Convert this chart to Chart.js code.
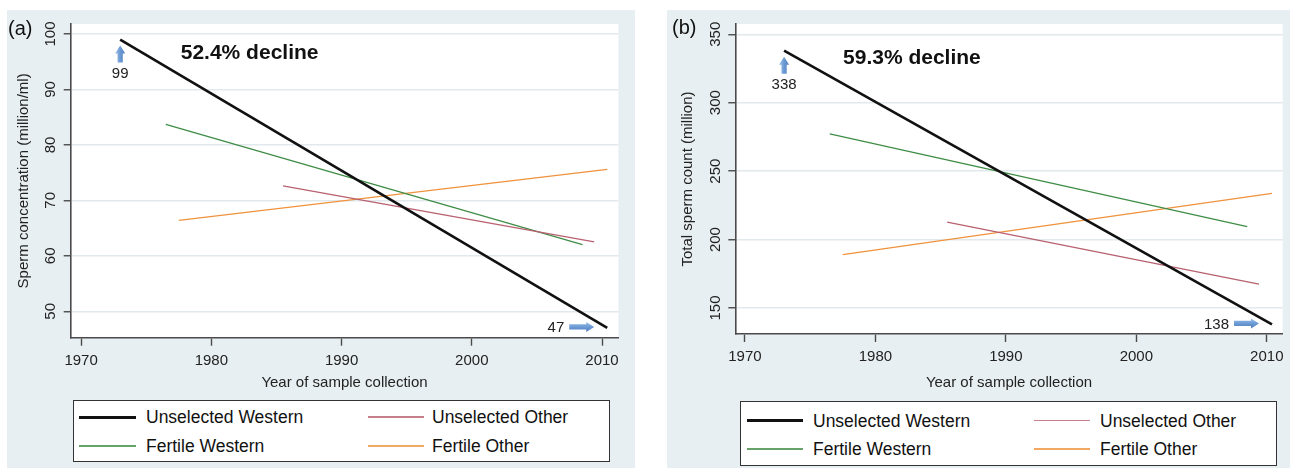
<!DOCTYPE html>
<html>
<head>
<meta charset="utf-8">
<script src="https://cdn.jsdelivr.net/npm/chart.js@4.4.1/dist/chart.umd.min.js"></script>
<style>
body { margin: 0; width: 1292px; height: 470px; background: #fff; position: relative; overflow: hidden; font-family: "Liberation Sans", Arial, sans-serif; }
.panel { position: absolute; top: 10px; height: 458px; background: #e8eff2; }
.panel canvas { position: absolute; left: 0; top: 0; }
.tag { position: absolute; font-size: 20px; color: #111; line-height: 20px; }
.legend { position: absolute; background: #fff; border: 1.5px solid #333; box-sizing: border-box; }
.item { position: absolute; font-size: 17.5px; color: #111; line-height: 20px; white-space: nowrap; }
.swatch { position: absolute; }
</style>
</head>
<body>
<div class="panel" style="left:7px;width:628px"><canvas id="chartA" width="628" height="458"></canvas></div>
<div class="panel" style="left:667px;width:623px"><canvas id="chartB" width="623" height="458"></canvas></div>
<div class="tag" style="left:8px;top:18px">(a)</div>
<div class="tag" style="left:672px;top:17px">(b)</div>
<div class="legend" id="legendA" style="left:73px;top:400px;width:537px;height:62px"></div>
<div class="legend" id="legendB" style="left:740px;top:401px;width:537px;height:65px"></div>

<script>
// tick labels
const xTicks = [1970, 1980, 1990, 2000, 2010];
const concTicks = [50, 60, 70, 80, 90, 100];
const countTicks = [150, 200, 250, 300, 350];

// series, in legend order
const seriesNames = ['Unselected Western', 'Unselected Other', 'Fertile Western', 'Fertile Other'];
const seriesColors = ['#111111', '#b8606f', '#3e8c45', '#f0923c'];
const seriesWidths = [2.6, 1.3, 1.3, 1.3];

// first and last year of each fitted line
const yearsUnselWestern = [1973, 2010.4];
const yearsUnselOther = [1985.5, 2009.4];
const yearsFertWestern = [1976.5, 2008.5];
const yearsFertOther = [1977.5, 2010.4];

// (a) sperm concentration (million/ml)
const concUnselWestern = [99, 47];
const concUnselOther = [72.6, 62.5];
const concFertWestern = [83.7, 62.0];
const concFertOther = [66.4, 75.6];

// (b) total sperm count (million)
const countUnselWestern = [338, 138];
const countUnselOther = [212.8, 167.5];
const countFertWestern = [277.3, 209.4];
const countFertOther = [189, 233.8];

const FONT = '"Liberation Sans", Arial, sans-serif';

const toPoints = (xs, ys) => xs.map((x, i) => ({ x: x, y: ys[i] }));

function buildDatasets(values) {
    const years = [yearsUnselWestern, yearsUnselOther, yearsFertWestern, yearsFertOther];
    return values.map((v, i) => ({
        label: seriesNames[i],
        data: toPoints(years[i], v),
        borderColor: seriesColors[i],
        borderWidth: seriesWidths[i],
        pointRadius: 0,
        tension: 0,
        fill: false
    }));
}

// white plot region
const plotBg = {
    id: 'plotBg',
    beforeDraw(chart) {
        const a = chart.chartArea, ctx = chart.ctx;
        ctx.save();
        ctx.fillStyle = '#ffffff';
        ctx.fillRect(a.left, a.top, a.right - a.left, a.bottom - a.top);
        ctx.restore();
    }
};

// stata style vertical y tick labels
const rotatedYTicks = {
    id: 'rotatedYTicks',
    afterDraw(chart) {
        const y = chart.scales.y, ctx = chart.ctx;
        const lx = chart.chartArea.left - 21;
        ctx.save();
        ctx.font = '15px ' + FONT;
        ctx.fillStyle = '#222';
        ctx.textAlign = 'center';
        ctx.textBaseline = 'alphabetic';
        y.ticks.forEach(t => {
            ctx.save();
            ctx.translate(lx, y.getPixelForValue(t.value));
            ctx.rotate(-Math.PI / 2);
            ctx.fillText(String(t.value), 0, 5.4);
            ctx.restore();
        });
        ctx.restore();
    }
};

function blockArrow(ctx, x0, y0, x1, y1) {
    // arrow from (x0,y0) tail to (x1,y1) tip
    const len = Math.hypot(x1 - x0, y1 - y0);
    const ang = Math.atan2(y1 - y0, x1 - x0);
    const head = 8, hw = 5, sw = 2.6;
    ctx.save();
    ctx.translate(x0, y0);
    ctx.rotate(ang);
    const g = ctx.createLinearGradient(0, -hw, 0, hw);
    g.addColorStop(0, '#9dc0ea');
    g.addColorStop(0.5, '#6b9ad4');
    g.addColorStop(1, '#4f7fbf');
    ctx.fillStyle = g;
    ctx.beginPath();
    ctx.moveTo(0, -sw);
    ctx.lineTo(len - head, -sw);
    ctx.lineTo(len - head, -hw);
    ctx.lineTo(len, 0);
    ctx.lineTo(len - head, hw);
    ctx.lineTo(len - head, sw);
    ctx.lineTo(0, sw);
    ctx.closePath();
    ctx.fill();
    ctx.restore();
}

// decline label and start / end arrows of the unselected western line
const declineMarks = {
    id: 'declineMarks',
    afterDatasetsDraw(chart, args, opts) {
        const ctx = chart.ctx, xs = chart.scales.x, ys = chart.scales.y;
        const pts = chart.data.datasets[0].data;
        const sx = xs.getPixelForValue(pts[0].x), sy = ys.getPixelForValue(pts[0].y);
        const ex = xs.getPixelForValue(pts[1].x), ey = ys.getPixelForValue(pts[1].y);
        ctx.save();
        ctx.font = 'bold 21px ' + FONT;
        ctx.fillStyle = '#111';
        ctx.textAlign = 'left';
        ctx.textBaseline = 'middle';
        ctx.fillText(opts.text, xs.getPixelForValue(opts.at[0]), ys.getPixelForValue(opts.at[1]));

        blockArrow(ctx, sx, sy + 23, sx, sy + 6);
        blockArrow(ctx, ex - 38, ey - 1, ex - 13, ey - 1);

        ctx.font = '15px ' + FONT;
        ctx.fillStyle = '#222';
        ctx.textAlign = 'center';
        ctx.fillText(opts.startLabel, sx, sy + 34);
        ctx.textAlign = 'right';
        ctx.fillText(opts.endLabel, ex - 43, ey);
        ctx.restore();
    }
};

function makeChart(id, values, yTicks, yRange, xRange, box, yTitle, marks) {
    const axisColor = '#4a4a4a';
    return new Chart(document.getElementById(id), {
        type: 'line',
        data: { datasets: buildDatasets(values) },
        plugins: [plotBg, rotatedYTicks, declineMarks],
        options: {
            responsive: false,
            animation: false,
            devicePixelRatio: 1,
            layout: { padding: { left: 0, top: box.top, right: box.right, bottom: 0 } },
            plugins: {
                legend: { display: false },
                tooltip: { enabled: false },
                declineMarks: marks
            },
            scales: {
                x: {
                    type: 'linear',
                    min: xRange[0],
                    max: xRange[1],
                    afterBuildTicks: s => { s.ticks = xTicks.map(v => ({ value: v })); },
                    afterFit: s => { s.height = box.xHeight; },
                    grid: { drawOnChartArea: false, drawTicks: true, tickLength: 8, tickColor: axisColor, tickWidth: 1.4 },
                    border: { color: axisColor, width: 1.6 },
                    ticks: { color: '#222', padding: 6, font: { family: FONT, size: 15 }, callback: v => String(v) },
                    title: { display: true, text: 'Year of sample collection', color: '#222', font: { family: FONT, size: 15 }, padding: { top: 0, bottom: 76 } }
                },
                y: {
                    type: 'linear',
                    min: yRange[0],
                    max: yRange[1],
                    afterBuildTicks: s => { s.ticks = yTicks.map(v => ({ value: v })); },
                    afterFit: s => { s.width = box.yWidth; },
                    grid: { color: '#e1e9ed', lineWidth: 1.5, drawTicks: true, tickLength: 7, tickColor: axisColor, tickWidth: 1.4 },
                    border: { color: axisColor, width: 1.6 },
                    ticks: { display: false },
                    title: { display: true, text: yTitle, color: '#222', font: { family: FONT, size: 15 }, padding: { top: box.titlePad, bottom: 0 } }
                }
            }
        }
    });
}

makeChart('chartA',
    [concUnselWestern, concUnselOther, concFertWestern, concFertOther],
    concTicks, [45.24, 101.8], [1969.2, 2011.25],
    { top: 14, right: 16.7, xHeight: 130.3, yWidth: 63.7, titlePad: 8 },
    'Sperm concentration (million/ml)',
    { text: '52.4% decline', at: [1977.65, 96.5], startLabel: '99', endLabel: '47' });

makeChart('chartB',
    [countUnselWestern, countUnselOther, countFertWestern, countFertOther],
    countTicks, [131.0, 357.5], [1969.26, 2011.22],
    { top: 14, right: 7.3, xHeight: 134, yWidth: 68.3, titlePad: 12 },
    'Total sperm count (million)',
    { text: '59.3% decline', at: [1977.52, 332.5], startLabel: '338', endLabel: '138' });

// legends, two columns: western left, other right
function buildLegend(id, lineX, textX, rowY) {
    const el = document.getElementById(id);
    const order = [[0, 0, 0], [1, 1, 0], [2, 0, 1], [3, 1, 1]]; // series, column, row
    order.forEach(([s, c, r]) => {
        const sw = document.createElement('div');
        sw.className = 'swatch';
        sw.style.left = lineX[c][0] + 'px';
        sw.style.width = (lineX[c][1] - lineX[c][0]) + 'px';
        sw.style.height = (s === 0 ? 3 : 1.5) + 'px';
        sw.style.top = (rowY[r] - (s === 0 ? 1.5 : 0.75)) + 'px';
        sw.style.background = seriesColors[s];
        sw.style.opacity = s === 0 ? 1 : 0.8;
        el.appendChild(sw);
        const tx = document.createElement('div');
        tx.className = 'item';
        tx.style.left = textX[c] + 'px';
        tx.style.top = (rowY[r] - 10) + 'px';
        tx.textContent = seriesNames[s];
        el.appendChild(tx);
    });
}

buildLegend('legendA', [[5, 62], [294, 350]], [72, 358], [16, 45]);
buildLegend('legendB', [[6, 62], [293, 349]], [72, 359], [18.5, 47]);
</script>
</body>
</html>
